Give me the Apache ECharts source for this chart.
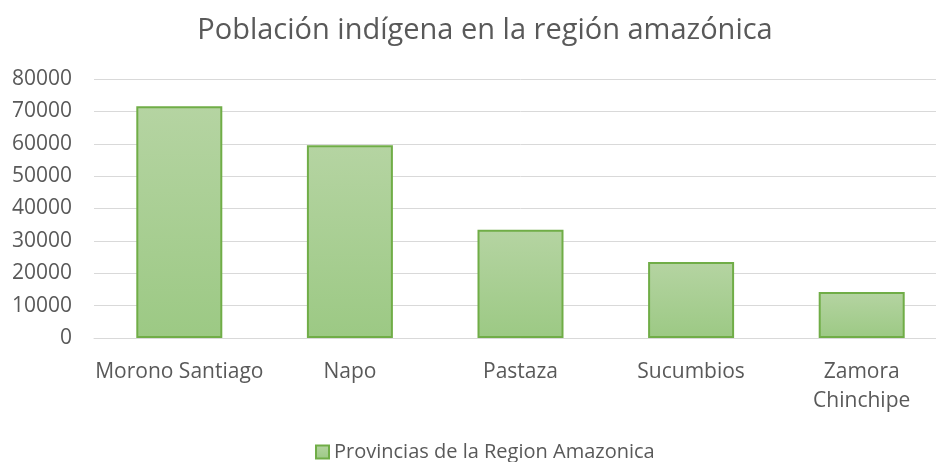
<!DOCTYPE html>
<html>
<head>
<meta charset="utf-8">
<script src="https://cdn.jsdelivr.net/npm/echarts@6/dist/echarts.min.js"></script>
<style>
  html, body { margin: 0; padding: 0; background: #fff; overflow: hidden; }
  #chart { width: 947px; height: 462px; }
</style>
</head>
<body>
<div id="chart"></div>
<script>
// datos
const provincias = ['Morono Santiago', 'Napo', 'Pastaza', 'Sucumbios', 'Zamora\nChinchipe'];
const poblacion = [71600, 59500, 33400, 23500, 14200];
const serieNombre = 'Provincias de la Region Amazonica';

const txt = '#595959';
const font = 'Open Sans';

const myChart = echarts.init(document.getElementById('chart'));
myChart.setOption({
  animation: false,
  title: {
    text: 'Población indígena en la región amazónica',
    left: 480,
    top: 11,
    textAlign: 'center',
    textStyle: { color: txt, fontSize: 29, fontWeight: 'normal', fontFamily: font }
  },
  legend: {
    left: 310,
    top: 437,
    itemWidth: 13,
    itemHeight: 13,
    itemGap: 5,
    textStyle: { color: txt, fontSize: 20, fontFamily: font },
    data: [{ name: serieNombre, icon: 'rect' }]
  },
  grid: { left: 94, right: 0, top: 79, bottom: 124 },
  xAxis: {
    type: 'category',
    data: provincias,
    axisTick: { show: false },
    axisLine: { lineStyle: { color: '#d9d9d9', width: 1 } },
    axisLabel: { color: txt, fontSize: 21, fontFamily: font, margin: 20, interval: 0, lineHeight: 29 }
  },
  yAxis: {
    type: 'value',
    min: 0,
    max: 80000,
    interval: 10000,
    axisLine: { show: false },
    axisTick: { show: false },
    splitLine: { lineStyle: { color: '#d9d9d9', width: 1 } },
    axisLabel: { color: txt, fontSize: 21, fontFamily: font, margin: 22, formatter: v => String(v) }
  },
  series: [{
    name: serieNombre,
    type: 'bar',
    data: poblacion,
    barWidth: 86,
    itemStyle: {
      color: new echarts.graphic.LinearGradient(0, 0, 0, 1, [
        { offset: 0, color: '#b5d4a2' },
        { offset: 1, color: '#9cc984' }
      ]),
      borderColor: '#70ad47',
      borderWidth: 2
    }
  }]
});
</script>
</body>
</html>
